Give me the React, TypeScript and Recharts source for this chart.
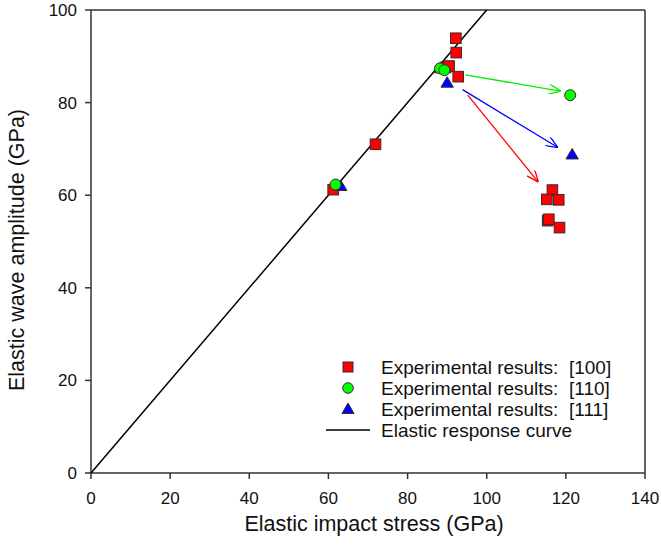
import React from 'react';
import { ScatterChart, Scatter, XAxis, YAxis, ReferenceLine } from 'recharts';

const xTicks = [0, 20, 40, 60, 80, 100, 120, 140];
const yTicks = [0, 20, 40, 60, 80, 100];
const xTitle = 'Elastic impact stress (GPa)';
const yTitle = 'Elastic wave amplitude (GPa)';

const data100 = [
  { x: 61.2, y: 61.2 },
  { x: 71.9, y: 71.0 },
  { x: 92.2, y: 93.9 },
  { x: 92.3, y: 90.8 },
  { x: 89.6, y: 87.6 },
  { x: 90.5, y: 87.9 },
  { x: 92.8, y: 85.6 },
  { x: 116.6, y: 61.1 },
  { x: 115.2, y: 59.1 },
  { x: 118.2, y: 59.0 },
  { x: 115.4, y: 54.5 },
  { x: 115.7, y: 54.8 },
  { x: 118.4, y: 53.0 },
];
const data110 = [
  { x: 61.8, y: 62.3 },
  { x: 88.2, y: 87.4 },
  { x: 89.3, y: 87.0 },
  { x: 121.1, y: 81.6 },
];
const data111 = [
  { x: 63.1, y: 62.0 },
  { x: 88.4, y: 87.4 },
  { x: 90.0, y: 84.3 },
  { x: 121.6, y: 68.8 },
];
const elasticLine = [
  { x: 0, y: 0 },
  { x: 100, y: 100 },
];
const arrows = [
  { color: '#00ee00', id: 'arrG', from: { x: 94.6, y: 86.0 }, to: { x: 118.5, y: 82.5 } },
  { color: '#0000ff', id: 'arrB', from: { x: 93.9, y: 82.8 }, to: { x: 117.8, y: 70.4 } },
  { color: '#ff0000', id: 'arrR', from: { x: 95.2, y: 81.6 }, to: { x: 112.9, y: 63.0 } },
];

const legendItems = [
  { label: 'Experimental results:  [100]', kind: 'square' },
  { label: 'Experimental results:  [110]', kind: 'circle' },
  { label: 'Experimental results:  [111]', kind: 'triangle' },
  { label: 'Elastic response curve', kind: 'line' },
];

const FONT = '"Liberation Sans", Arial, sans-serif';
const EDGE = '#3a2a2a';

const Square = (props: any) => {
  const { cx, cy } = props;
  if (cx == null || cy == null) return null;
  return <rect x={cx - 5.3} y={cy - 5.3} width={10.6} height={10.6} fill="#ff0000" stroke={EDGE} strokeWidth={1} />;
};
const Circle = (props: any) => {
  const { cx, cy } = props;
  if (cx == null || cy == null) return null;
  return <circle cx={cx} cy={cy} r={5.5} fill="#00ff00" stroke={EDGE} strokeWidth={1} />;
};
const Triangle = (props: any) => {
  const { cx, cy } = props;
  if (cx == null || cy == null) return null;
  return <path d={`M${cx},${cy - 6} L${cx + 6.2},${cy + 4.5} L${cx - 6.2},${cy + 4.5} Z`} fill="#0000ff" stroke={EDGE} strokeWidth={1} />;
};
const NoShape = () => null;

const LegendSymbol = ({ kind, cx, cy }: { kind: string; cx: number; cy: number }) => {
  if (kind === 'square') return <rect x={cx - 5} y={cy - 5} width={10} height={10} fill="#ff0000" stroke={EDGE} />;
  if (kind === 'circle') return <circle cx={cx} cy={cy} r={5.3} fill="#00ff00" stroke={EDGE} />;
  if (kind === 'triangle') return <path d={`M${cx},${cy - 6} L${cx + 6},${cy + 4.5} L${cx - 6},${cy + 4.5} Z`} fill="#0000ff" stroke={EDGE} />;
  return <line x1={cx - 22} y1={cy} x2={cx + 22} y2={cy} stroke="#000" strokeWidth={1.5} />;
};

const SvgLegend = () => (
  <g>
    {legendItems.map((it, i) => {
      const cy = 367 + i * 21;
      return (
        <g key={it.label}>
          <LegendSymbol kind={it.kind} cx={348} cy={cy} />
          <text x={381} y={cy} dy="0.36em" fontFamily={FONT} fontSize={19} fill="#111" style={{ whiteSpace: 'pre' }} xmlSpace="preserve">
            {it.label}
          </text>
        </g>
      );
    })}
  </g>
);

const AxisTitles = () => (
  <g fontFamily={FONT} fontSize={21.5} fill="#111">
    <text x={374} y={531} textAnchor="middle">{xTitle}</text>
    <text transform="translate(24,250) rotate(-90)" textAnchor="middle">{yTitle}</text>
  </g>
);

export default function App() {
  return (
    <div style={{ position: 'absolute', left: 0, top: 0, background: '#fff' }}>
      <ScatterChart width={661} height={545} margin={{ top: 10, right: 16, left: 0, bottom: 0 }}>
        <defs>
          {arrows.map((a) => (
            <marker key={a.id} id={a.id} viewBox="0 0 12 10" refX={11} refY={5} markerWidth={12} markerHeight={10} markerUnits="userSpaceOnUse" orient="auto">
              <path d="M0,0 L12,5 L0,10" fill="none" stroke={a.color} strokeWidth={1.3} />
            </marker>
          ))}
        </defs>
        <XAxis
          type="number"
          dataKey="x"
          domain={[0, 140]}
          ticks={xTicks}
          height={72}
          stroke="#333"
          strokeWidth={1.5}
          tickSize={6}
          tick={{ fill: '#111', fontSize: 17, fontFamily: FONT }}
          tickMargin={13}
        />
        <YAxis
          type="number"
          dataKey="y"
          domain={[0, 100]}
          ticks={yTicks}
          width={91}
          stroke="#333"
          strokeWidth={1.5}
          tickSize={6}
          tick={{ fill: '#111', fontSize: 17, fontFamily: FONT }}
          tickMargin={8}
        />
        <ReferenceLine y={100} stroke="#333" strokeWidth={1.5} />
        <ReferenceLine x={140} stroke="#333" strokeWidth={1.5} />
        <Scatter data={elasticLine} line={{ stroke: '#000', strokeWidth: 1.5 }} shape={NoShape} isAnimationActive={false} legendType="none" />
        {arrows.map((a) => (
          <ReferenceLine key={a.id} segment={[a.from, a.to]} stroke={a.color} strokeWidth={1.3} markerEnd={`url(#${a.id})`} />
        ))}
        <Scatter data={data100} shape={Square} isAnimationActive={false} />
        <Scatter data={data111} shape={Triangle} isAnimationActive={false} />
        <Scatter data={data110} shape={Circle} isAnimationActive={false} />
        <SvgLegend />
        <AxisTitles />
      </ScatterChart>
    </div>
  );
}
